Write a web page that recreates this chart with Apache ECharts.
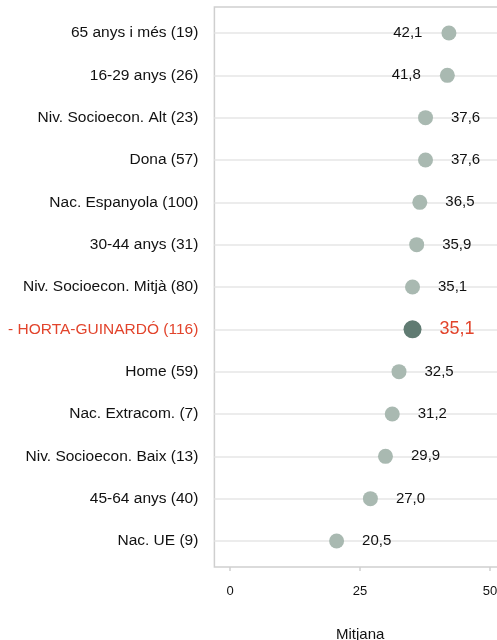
<html lang="ca">
<head>
    <meta charset="UTF-8">
    <title>Mitjana per grups</title>
</head>
<body style="margin:0;background:#fff;">
<div id="main" style="width:497px;height:640px;"></div>
<script src="https://cdn.jsdelivr.net/npm/echarts@6/dist/echarts.min.js"></script>
<script>
// dades llegides del grafic
var categories = [
    '65 anys i més (19)',
    '16-29 anys (26)',
    'Niv. Socioecon. Alt (23)',
    'Dona (57)',
    'Nac. Espanyola (100)',
    '30-44 anys (31)',
    'Niv. Socioecon. Mitjà (80)',
    'HORTA-GUINARDÓ (116)',
    'Home (59)',
    'Nac. Extracom. (7)',
    'Niv. Socioecon. Baix (13)',
    '45-64 anys (40)',
    'Nac. UE (9)'
];
var values = [42.1, 41.8, 37.6, 37.6, 36.5, 35.9, 35.1, 35.1, 32.5, 31.2, 29.9, 27.0, 20.5];
var xTicks = [0, 25, 50];
var highlight = 'HORTA-GUINARDÓ (116)';
var leftLabelRows = ['65 anys i més (19)', '16-29 anys (26)'];

var fmt = function (v) { return v.toFixed(1).replace('.', ','); };

var seriesData = categories.map(function (c, i) {
    var hl = c === highlight;
    var left = leftLabelRows.indexOf(c) >= 0;
    return {
        value: [values[i], c],
        symbolSize: hl ? 18 : 15,
        itemStyle: { color: hl ? '#607b72' : '#a9b9b1', opacity: 1 },
        label: {
            position: left ? 'left' : 'right',
            distance: left ? 19 : 18,
            color: hl ? '#e2442c' : '#111',
            fontSize: hl ? 18 : 15
        }
    };
});

var myCharts = echarts.init(document.getElementById('main'));
var option = {
    animation: false,
    textStyle: { fontFamily: '"Liberation Sans", Arial, sans-serif' },
    grid: [
        { left: 214.4, top: 33, width: 301.6, height: 508, outerBoundsMode: 'none', containLabel: false },
        { left: 214.4, top: 7, width: 301.6, height: 560, outerBoundsMode: 'none', containLabel: false,
          show: true, borderColor: '#cfcfcf', borderWidth: 1.5, backgroundColor: 'transparent' }
    ],
    xAxis: [
        { gridIndex: 0, type: 'value', min: -3, max: 55, show: false },
        {
            gridIndex: 1, type: 'value', min: -3, max: 55,
            axisLine: { show: false },
            splitLine: { show: false },
            axisTick: { show: true, length: 4, lineStyle: { color: '#cfcfcf', width: 1.5 }, customValues: xTicks },
            axisLabel: { margin: 18, fontSize: 13, color: '#111', customValues: xTicks, formatter: function (v) { return v; } },
            name: 'Mitjana',
            nameLocation: 'middle',
            nameGap: 60,
            nameTextStyle: { fontSize: 15, color: '#111', padding: [0, 10, 0, 0] }
        }
    ],
    yAxis: [
        {
            gridIndex: 0, type: 'category', data: categories, inverse: true, boundaryGap: false,
            axisLine: { show: false },
            axisTick: { show: false },
            splitLine: { show: true, lineStyle: { color: '#e6e6e6', width: 1.5 } },
            axisLabel: {
                margin: 16, fontSize: 15.5, color: '#111',
                formatter: function (v) {
                    if (v === highlight) return '{d|- }{h|' + v + '}';
                    return v;
                },
                rich: {
                    d: { fontSize: 15.5, color: '#e2442c' },
                    h: { fontSize: 15.5, color: '#e2442c' }
                }
            }
        },
        { gridIndex: 1, type: 'value', show: false }
    ],
    series: [{
        type: 'scatter',
        xAxisIndex: 0,
        yAxisIndex: 0,
        clip: false,
        symbol: 'circle',
        label: {
            show: true,
            formatter: function (p) { return fmt(p.value[0]); }
        },
        data: seriesData,
        z: 5
    }]
};
myCharts.setOption(option);
</script>
</body>
</html>
